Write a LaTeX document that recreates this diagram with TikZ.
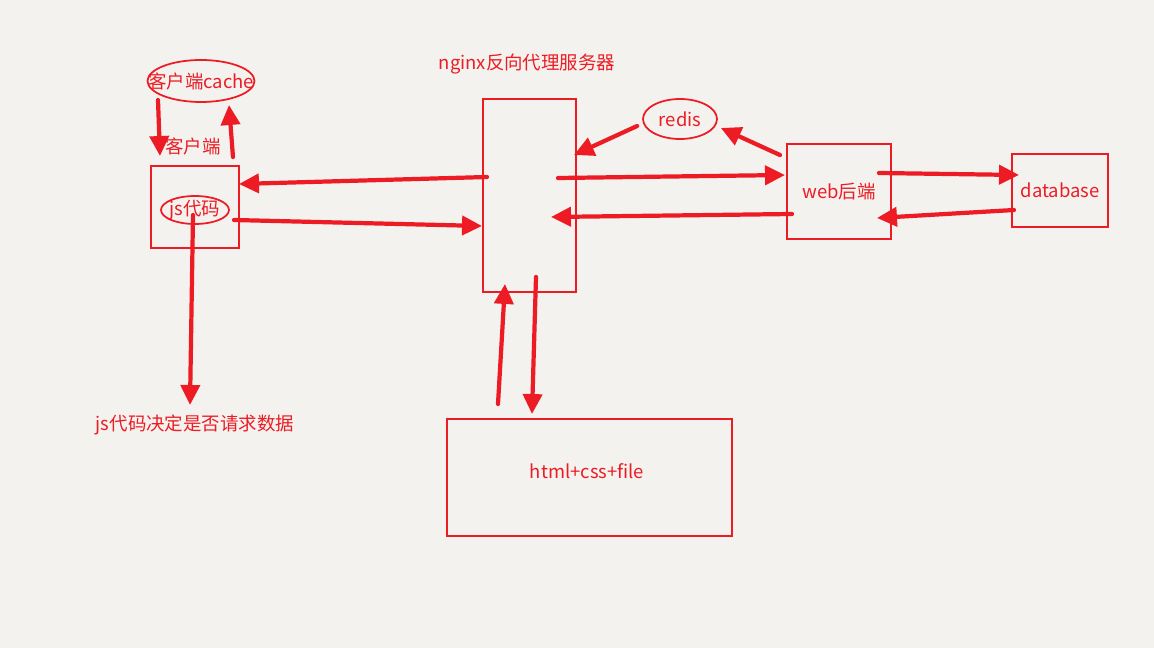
\documentclass[tikz,border=0pt]{standalone}
\usepackage{fontspec}
\setmainfont{Noto Sans CJK SC}
\usetikzlibrary{arrows.meta,positioning,shapes.geometric,calc}
\definecolor{inkred}{HTML}{ED1C24}
\definecolor{paper}{HTML}{F3F2EF}

\begin{document}
\begin{tikzpicture}[
  x=0.02cm, y=-0.02cm,
  font=\fontsize{10.5}{12}\selectfont, text=inkred,
  box/.style={rectangle, draw=inkred, line width=1.1pt, inner sep=0pt},
  oval/.style={ellipse, draw=inkred, line width=1pt, inner sep=0pt},
  arr/.style={draw=inkred, line width=2.4pt, line cap=round, -{Triangle[length=4mm,width=3.8mm]}}
]

% background / page size
\fill[paper] (0,0) rectangle (1154,648);

% client side
\node[oval, inner xsep=-18pt, minimum width=2.14cm, minimum height=0.84cm] (cache) at (201,81) {客户端cache};
\node[box, minimum width=1.76cm, minimum height=1.64cm] (client) at (195,207) {};
\node (client_label) at (193,146) {客户端};
\node[oval, inner xsep=-6pt, minimum width=1.36cm, minimum height=0.52cm] (js) at (195,210) {js代码};
\node (js_note) at (195,425) {js代码决定是否请求数据};

% nginx
\node[box, minimum width=1.86cm, minimum height=3.86cm] (nginx) at (529.5,195.5) {};
\node (nginx_label) at (527,64) {nginx反向代理服务器};

% backend
\node[oval, minimum width=1.48cm, minimum height=0.8cm] (redis) at (680,119) {redis};
\node[box, minimum width=2.08cm, minimum height=1.9cm] (web) at (839,191.5) {web后端};
\node[box, minimum width=1.92cm, minimum height=1.46cm] (db) at (1060,190.5) {database};

% static files
\node[box, minimum width=5.7cm, minimum height=2.34cm] (html) at (589.5,477.5) {};
\node (html_label) at (587,471) {html+css+file};

% client <-> cache
\draw[arr] ([shift={(-43,19)}]cache.center) -- ([shift={(-35,-9)}]client.north);
\draw[arr] ([shift={(38,-8)}]client.north) -- ([shift={(28,24)}]cache.center);
\draw[arr] ([shift={(-2,5)}]js.center) -- ([shift={(-5,-20)}]js_note.center);

% client <-> nginx
\draw[arr] ([shift={(5,-18.5)}]nginx.west) -- ([shift={(-1,-23)}]client.east);
\draw[arr] ([shift={(-6,13)}]client.east) -- ([shift={(0,30.5)}]nginx.west);

% nginx <-> redis / web
\draw[arr] ([shift={(-5,7)}]redis.west) -- ([shift={(-3,-40.5)}]nginx.east);
\draw[arr] ([shift={(-6,12)}]web.north west) -- ([shift={(3,9)}]redis.east);
\draw[arr] ([shift={(-19,-17.5)}]nginx.east) -- ([shift={(-1,-16.5)}]web.west);
\draw[arr] ([shift={(6,22.5)}]web.west) -- ([shift={(-26,21.5)}]nginx.east);

% web <-> database
\draw[arr] ([shift={(-13,-18.5)}]web.east) -- ([shift={(8,-15.5)}]db.west);
\draw[arr] ([shift={(3,19.5)}]db.west) -- ([shift={(-15,26.5)}]web.east);

% nginx <-> static files
\draw[arr] ([shift={(-91.5,-14)}]html.north) -- ([shift={(-24.5,-9)}]nginx.south);
\draw[arr] ([shift={(6.5,-16)}]nginx.south) -- ([shift={(-57.5,-4)}]html.north);

\end{tikzpicture}
\end{document}
